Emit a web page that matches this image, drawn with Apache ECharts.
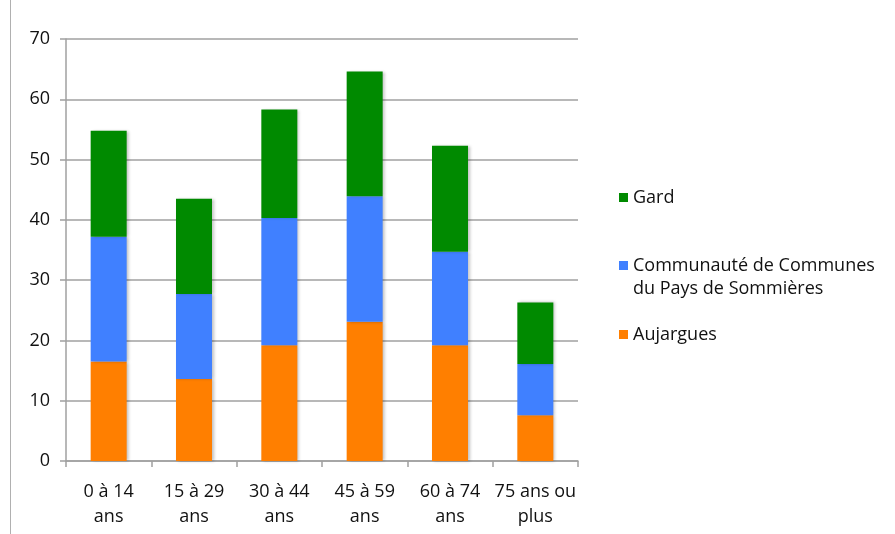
<!DOCTYPE html>
<html>
<head>
<meta charset="utf-8">
<script src="https://cdn.jsdelivr.net/npm/echarts@6/dist/echarts.min.js"></script>
<style>
html,body{margin:0;padding:0;background:#fff;}
#c{width:895px;height:534px;}
</style>
</head>
<body>
<div id="c"></div>
<script>
const categories = ["0 à 14\nans", "15 à 29\nans", "30 à 44\nans", "45 à 59\nans", "60 à 74\nans", "75 ans ou\nplus"];
const aujargues = [16.5, 13.6, 19.2, 23.1, 19.2, 7.6];
const communaute = [20.7, 14.1, 21.1, 20.8, 15.5, 8.5];
const gard = [17.6, 15.8, 18.0, 20.7, 17.6, 10.2];
const yTicks = [0, 10, 20, 30, 40, 50, 60, 70];

const FONT = "'Open Sans', 'Noto Sans', sans-serif";
const chart = echarts.init(document.getElementById('c'));
const barShadow = {shadowColor: 'rgba(0,0,0,0.25)', shadowBlur: 3, shadowOffsetX: 2, shadowOffsetY: 0};
const legendText = {fontFamily: FONT, fontSize: 18, color: '#111', lineHeight: 23};
chart.setOption({
  animation: false,
  backgroundColor: '#fff',
  textStyle: {fontFamily: FONT},
  graphic: [{type: 'line', shape: {x1: 10.5, y1: 0, x2: 10.5, y2: 534}, style: {stroke: '#b0b0b0', lineWidth: 1}}],
  legend: [
    {data: ['Gard'], orient: 'vertical', left: 614, top: 181, itemWidth: 9, itemHeight: 9, icon: 'rect', textStyle: legendText},
    {data: ['Communauté de Communes du Pays de Sommières'], orient: 'vertical', left: 614, top: 226, itemWidth: 9, itemHeight: 9, icon: 'rect',
     formatter: function(){ return ' \nCommunauté de Communes\ndu Pays de Sommières'; },
     textStyle: legendText},
    {data: ['Aujargues'], orient: 'vertical', left: 614, top: 318, itemWidth: 9, itemHeight: 9, icon: 'rect', textStyle: legendText}
  ],
  grid: {left: 66, right: 317, top: 39, bottom: 73, containLabel: false},
  xAxis: {
    type: 'category', data: categories,
    axisLine: {lineStyle: {color: '#a0a0a0', width: 1.5}},
    axisTick: {show: true, length: 6, lineStyle: {color: '#a0a0a0', width: 1.5}},
    axisLabel: {fontFamily: FONT, fontSize: 18, color: '#111', lineHeight: 25, margin: 18, interval: 0}
  },
  yAxis: {
    type: 'value', min: yTicks[0], max: yTicks[yTicks.length - 1], interval: 10,
    axisLine: {show: true, lineStyle: {color: '#a0a0a0', width: 1.5}},
    axisTick: {show: true, length: 6, lineStyle: {color: '#a0a0a0', width: 1.5}},
    splitLine: {lineStyle: {color: '#a0a0a0', width: 1.5}},
    axisLabel: {fontFamily: FONT, fontSize: 18, color: '#111', margin: 16}
  },
  series: [
    {name: 'Aujargues', type: 'bar', stack: 'a', data: aujargues, barWidth: 36, itemStyle: Object.assign({color: '#ff7f00'}, barShadow)},
    {name: 'Communauté de Communes du Pays de Sommières', type: 'bar', stack: 'a', data: communaute, barWidth: 36, itemStyle: Object.assign({color: '#4080ff'}, barShadow)},
    {name: 'Gard', type: 'bar', stack: 'a', data: gard, barWidth: 36, itemStyle: Object.assign({color: '#008a00'}, barShadow)}
  ]
});
</script>
</body>
</html>
